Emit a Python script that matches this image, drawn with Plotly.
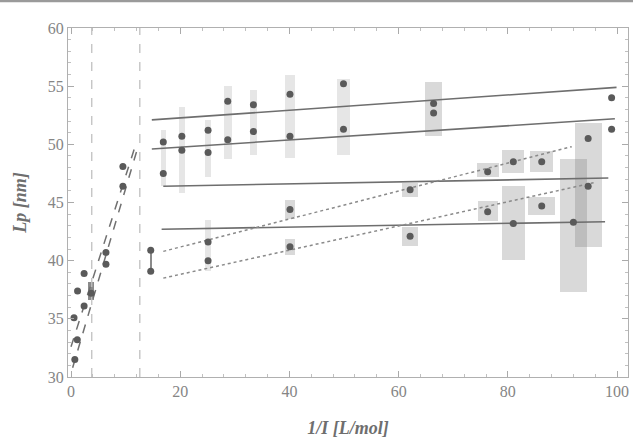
import plotly.graph_objects as go

# ---------------- data ----------------
# left (low 1/I) group, two series
left_x_a = [0.55, 1.2, 2.4, 6.4, 9.5]
left_y_a = [35.1, 37.4, 38.9, 40.7, 48.1]
left_x_b = [0.7, 1.15, 2.4, 3.7, 6.4, 9.5]
left_y_b = [31.5, 33.2, 36.1, 37.2, 39.7, 46.4]

# left fit lines (dashed)
fit_a_x = [0.0, 12.0]
fit_a_y = [32.6, 50.2]
fit_b_x = [0.3, 12.4]
fit_b_y = [30.8, 50.0]

# vertical reference lines (dashed)
ref_x = [3.8, 12.6]

# right group points
pts_x = [14.6, 14.6, 16.9, 16.9, 20.3, 20.3, 25.1, 25.1, 25.1, 25.1,
         28.7, 28.7, 33.4, 33.4, 40.1, 40.1, 40.1, 40.1, 49.9, 49.9,
         62.1, 62.1, 66.4, 66.4, 76.3, 76.3, 81.0, 81.0, 86.2, 86.2,
         92.0, 94.7, 94.7, 99.0, 99.0]
pts_y = [40.9, 39.1, 50.2, 47.5, 50.7, 49.5, 51.2, 49.3, 41.6, 40.0,
         53.7, 50.4, 53.4, 51.1, 54.3, 50.7, 44.4, 41.2, 55.2, 51.3,
         46.1, 42.1, 53.5, 52.7, 47.65, 44.2, 48.5, 43.2, 48.5, 44.7,
         43.3, 50.5, 46.4, 54.0, 51.3]

# thin vertical error bands
band_x = [16.9, 20.3, 25.1, 25.1, 28.7, 33.4, 40.1, 49.9]
band_lo = [46.4, 45.8, 47.2, 39.1, 48.7, 49.1, 48.8, 49.1]
band_hi = [51.2, 53.2, 52.1, 43.5, 55.0, 54.7, 56.0, 55.6]
band_w = [1.0, 1.2, 1.2, 1.2, 1.4, 1.2, 1.8, 2.4]

# shaded error boxes
box_x = [66.35, 62.1, 62.1, 40.1, 40.1, 76.3, 76.3, 81.0, 81.0, 86.2, 86.2, 92.0, 94.75]
box_w = [3.1, 3.0, 3.0, 2.0, 2.0, 4.0, 3.7, 4.0, 4.3, 4.3, 5.0, 4.9, 4.9]
box_lo = [50.7, 45.5, 41.3, 43.6, 40.5, 47.2, 43.4, 47.5, 40.1, 47.6, 43.9, 37.3, 41.2]
box_hi = [55.4, 46.7, 42.9, 45.2, 41.9, 48.4, 45.1, 49.5, 46.4, 49.4, 45.5, 48.7, 51.8]

# dark small error markers
dark_x = [3.7, 14.6]
dark_lo = [36.6, 39.1]
dark_hi = [38.2, 40.9]
dark_w = [1.0, 0.35]

# solid fit lines
solid_x = [[14.8, 99.9], [14.8, 99.6], [16.9, 98.4], [16.6, 97.8]]
solid_y = [[52.1, 54.9], [49.6, 52.2], [46.4, 47.1], [42.7, 43.35]]

# dotted fit lines
dot_x = [[16.9, 91.7], [16.9, 95.7]]
dot_y = [[40.8, 49.8], [38.5, 46.7]]

x_ticks = [0, 20, 40, 60, 80, 100]
y_ticks = [30, 35, 40, 45, 50, 55, 60]

# ---------------- figure ----------------
fig = go.Figure()

fig.add_trace(go.Bar(
    x=box_x, width=box_w, base=box_lo,
    y=[h - l for h, l in zip(box_hi, box_lo)],
    marker=dict(color="rgba(120,120,120,0.28)", line=dict(width=0)),
    hoverinfo="skip"))
fig.add_trace(go.Bar(
    x=band_x, width=band_w, base=band_lo,
    y=[h - l for h, l in zip(band_hi, band_lo)],
    marker=dict(color="rgba(140,140,140,0.22)", line=dict(width=0)),
    hoverinfo="skip"))
fig.add_trace(go.Bar(
    x=dark_x, width=dark_w, base=dark_lo,
    y=[h - l for h, l in zip(dark_hi, dark_lo)],
    marker=dict(color="rgba(90,90,90,0.7)", line=dict(width=0)),
    hoverinfo="skip"))

for rx in ref_x:
    fig.add_trace(go.Scatter(x=[rx, rx], y=[30, 60], mode="lines",
                             line=dict(color="#c0c0c0", width=1.3, dash="dash")))

fig.add_trace(go.Scatter(x=fit_a_x, y=fit_a_y, mode="lines",
                         line=dict(color="#707070", width=1.5, dash="dash")))
fig.add_trace(go.Scatter(x=fit_b_x, y=fit_b_y, mode="lines",
                         line=dict(color="#707070", width=1.5, dash="dash")))

for sx, sy in zip(solid_x, solid_y):
    fig.add_trace(go.Scatter(x=sx, y=sy, mode="lines",
                             line=dict(color="#6e6e6e", width=1.6)))
for dx, dy in zip(dot_x, dot_y):
    fig.add_trace(go.Scatter(x=dx, y=dy, mode="lines",
                             line=dict(color="#8a8a8a", width=1.5, dash="dot")))

marker = dict(color="#5a5a5a", size=7, line=dict(width=0))
fig.add_trace(go.Scatter(x=left_x_a, y=left_y_a, mode="markers", marker=marker))
fig.add_trace(go.Scatter(x=left_x_b, y=left_y_b, mode="markers", marker=marker))
fig.add_trace(go.Scatter(x=pts_x, y=pts_y, mode="markers", marker=marker))

axis_font = dict(family="Liberation Serif", size=16, color="#858585")
title_font = dict(family="Liberation Serif", size=18, color="#6e6e6e")

fig.update_layout(
    width=633, height=446,
    margin=dict(l=68, r=5, t=28, b=69),
    paper_bgcolor="white", plot_bgcolor="white",
    showlegend=False, barmode="overlay", bargap=0,
    xaxis=dict(range=[-0.55, 102.0], tickvals=x_ticks, automargin=False,
               showgrid=False, zeroline=False, ticklabeloverflow="allow",
               showline=True, linecolor="#b0b0b0", linewidth=1.2, mirror="allticks",
               ticks="inside", ticklen=6, tickcolor="#aaaaaa",
               minor=dict(ticks="inside", ticklen=3, dtick=4, tickcolor="#c0c0c0"),
               tickfont=axis_font,
               title=dict(text="<i><b>1/I [L/mol]</b></i>", font=title_font, standoff=22)),
    yaxis=dict(range=[30, 60], tickvals=y_ticks, automargin=False,
               showgrid=False, zeroline=False, ticklabeloverflow="allow",
               showline=True, linecolor="#b0b0b0", linewidth=1.2, mirror="allticks",
               ticks="inside", ticklen=6, tickcolor="#aaaaaa",
               minor=dict(ticks="inside", ticklen=3, dtick=1, tickcolor="#c0c0c0"),
               tickfont=axis_font,
               title=dict(text="<i><b>Lp [nm]</b></i>", font=title_font, standoff=16)),
    shapes=[dict(type="rect", xref="paper", yref="paper",
                 x0=-0.2, x1=1.1, y0=1.074, y1=1.09,
                 fillcolor="#9a9a9a", line=dict(width=0))],
)

fig.write_html("out.html", config={"displayModeBar": False},
               post_script="document.body.style.margin='0px';document.body.style.padding='0px';")
